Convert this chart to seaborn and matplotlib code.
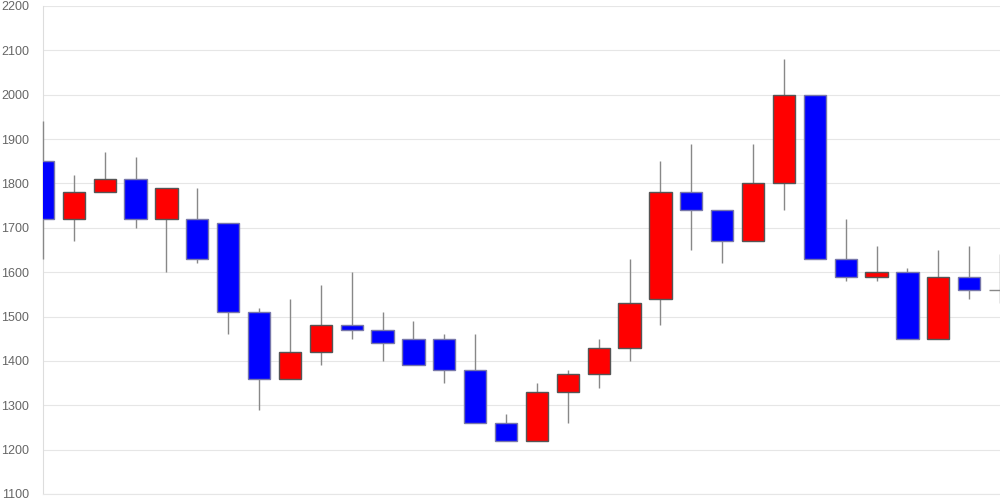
import numpy as np
import pandas as pd
import matplotlib
matplotlib.use('Agg')
import matplotlib.pyplot as plt
import seaborn as sns

opens = [1850, 1720, 1780, 1810, 1720, 1720, 1710, 1510, 1360, 1420, 1480, 1470,
         1450, 1450, 1380, 1260, 1220, 1330, 1370, 1430, 1540, 1780, 1740, 1670,
         1800, 2000, 1630, 1590, 1600, 1450, 1590, 1560]
closes = [1720, 1780, 1810, 1720, 1790, 1630, 1510, 1360, 1420, 1480, 1470, 1440,
          1390, 1380, 1260, 1220, 1330, 1370, 1430, 1530, 1780, 1740, 1670, 1800,
          2000, 1630, 1590, 1600, 1450, 1590, 1560, 1560]
highs = [1940, 1820, 1870, 1860, 1790, 1790, 1710, 1520, 1540, 1570, 1600, 1510,
         1490, 1460, 1460, 1280, 1350, 1380, 1450, 1630, 1850, 1890, 1740, 1890,
         2080, 2000, 1720, 1660, 1610, 1650, 1660, 1640]
lows = [1630, 1670, 1780, 1700, 1600, 1620, 1460, 1290, 1360, 1390, 1450, 1400,
        1390, 1350, 1260, 1220, 1220, 1260, 1340, 1400, 1480, 1650, 1620, 1670,
        1740, 1630, 1580, 1580, 1450, 1450, 1540, 1530]
yticks = list(range(1100, 2201, 100))

df = pd.DataFrame({'open': opens, 'close': closes, 'high': highs, 'low': lows})
df['idx'] = np.arange(len(df))
df['bottom'] = df[['open', 'close']].min(axis=1)
df['height'] = (df['close'] - df['open']).abs()
df['dir'] = np.sign(df['close'] - df['open'])

sns.set_style('whitegrid', {'grid.color': '#e6e6e6', 'axes.edgecolor': '#e0e0e0'})
plt.rcParams['font.family'] = ['Liberation Sans', 'DejaVu Sans']

fig = plt.figure(figsize=(10, 5), dpi=100)
ax = fig.add_axes([0.043, 0.012, 0.957, 0.976])

ax.vlines(df['idx'], df['low'], df['high'], color='#888888', linewidth=1,
          zorder=4, clip_on=False)

colors = df['dir'].map({1: '#ff0000', -1: '#0000ff', 0: '#888888'})
edges = df['dir'].map({1: '#555555', -1: '#7777aa', 0: '#888888'})
ax.bar(df['idx'], df['height'], bottom=df['bottom'], width=0.72,
       color=colors, edgecolor=edges, linewidth=1, zorder=5)

ax.set_xlim(0, len(df) - 1)
ax.set_ylim(1100, 2200)
ax.set_yticks(yticks)
ax.set_xticks([])
ax.tick_params(axis='y', colors='#666666', labelsize=9, length=0, pad=10)
ax.grid(axis='x', visible=False)
for s in ['top', 'right']:
    ax.spines[s].set_visible(False)
ax.spines['left'].set_color('#dddddd')
ax.spines['left'].set_zorder(1)
ax.spines['bottom'].set_color('#e6e6e6')

fig.savefig('out.png', dpi=100)
